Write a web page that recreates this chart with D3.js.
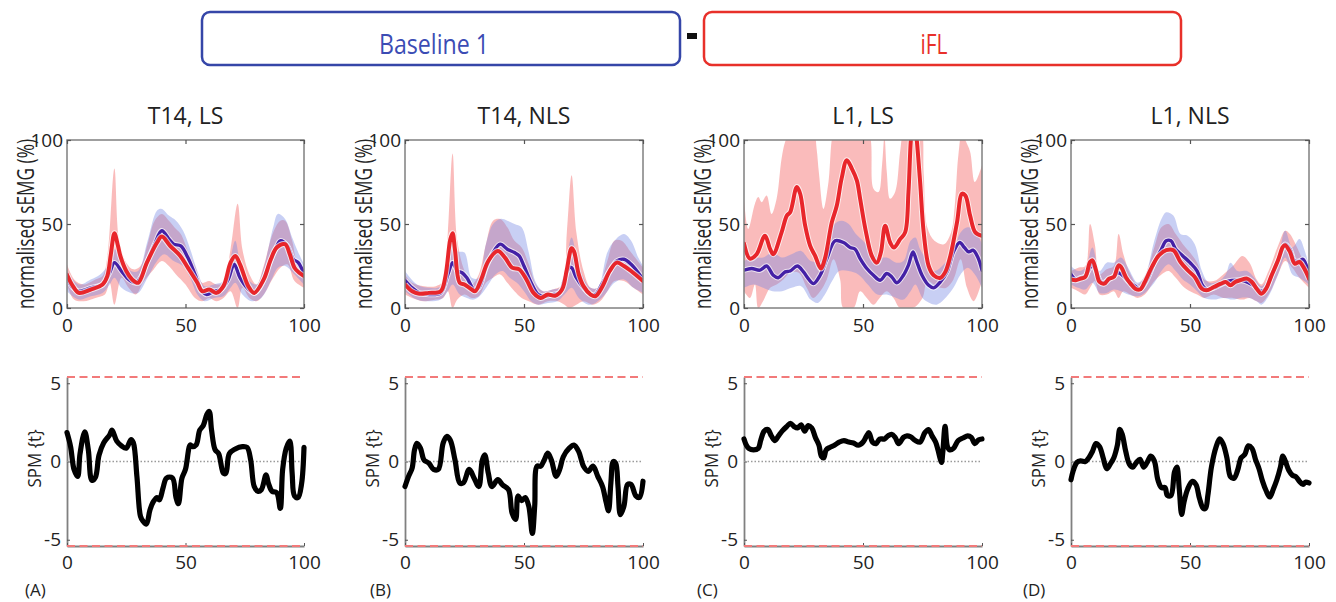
<!DOCTYPE html>
<html><head><meta charset="utf-8">
<script src="https://cdn.jsdelivr.net/npm/d3@7"></script>
<style>
body{margin:0;background:#fff}
svg{display:block}
text{font-family:"Open Sans","Noto Sans",sans-serif}
</style>
</head><body>
<svg id="chart" width="1336" height="602"></svg>
<script>
// ---------------- DATA ----------------
const panelTitles = ["T14, LS", "T14, NLS", "L1, LS", "L1, NLS"];
const panelLetters = ["(A)", "(B)", "(C)", "(D)"];
const xTicks = [0, 50, 100];
const yTicksTop = [0, 50, 100];
const yTicksSpm = [-5, 0, 5];
const spmThreshold = 5.4;
const legendLabels = ["Baseline 1", "iFL"];

// Panel A: T14, LS
const A_redMean = [[0,19.8],[2.5,13],[5,9],[10,11],[15,14],[17,19],[18.5,32],[20,44.5],[21.5,37],[22.5,31],[25,22],[27.5,17],[30,15],[33.7,27],[38,39],[40,42.5],[43.5,37],[47.8,31],[51,24],[55,15],[57,10],[60,11],[63,9],[66,13],[69,27],[71,31],[73,26],[76.5,13],[79,9],[83,17],[86,29],[88.5,36],[92,38],[94,32],[96,24],[98,21],[100,19]];
const A_redUpper = [[0,26],[3,17],[7,14],[12,17],[15,19],[17,30],[20,83],[22,40],[25,27],[28,23],[31,25],[34,38],[37,52],[40,56],[43,52],[46,47],[48,44],[51,34],[54,25],[57,15],[60,16],[63,14],[66,15],[69,35],[72,62],[74,35],[77,20],[80,14],[83,25],[87,45],[90,52],[92,52],[95,40],[97,28],[100,24]];
const A_redLower = [[0,14],[3,5],[7,4],[12,6],[16,8],[18,15],[20,2],[23,18],[26,12],[29,8],[32,15],[36,22],[40,28],[43,25],[46,20],[50,14],[54,6],[57,4],[60,6],[63,4],[66,6],[69,10],[72,0],[74,12],[77,6],[80,4],[83,8],[87,18],[90,24],[93,26],[96,16],[100,12]];
const A_blueMean = [[0,18],[2.5,12],[5,10],[10,12],[15,14],[18,21],[20,27],[23,22],[26,17],[29,15],[31,18],[34,28],[37,38],[40,46],[43,41],[45,38],[48,37],[51,30],[54,20],[57,10],[59,8],[62,10],[65,11],[68,17],[70.5,26],[73,18],[76,12],[79,9],[82,14],[85,25],[88,35],[90,40],[93,37],[95.5,29],[97.6,27],[100,20]];
const A_blueUpper = [[0,22],[5,14],[10,17],[14,20],[17,25],[20,35],[23,30],[27,22],[30,22],[34,40],[38,58],[40,59],[43,55],[46,52],[49,46],[52,35],[55,22],[58,13],[62,14],[66,16],[69,30],[71,40],[73,28],[77,16],[80,14],[83,24],[87,48],[89,56],[92,53],[95,42],[97,35],[100,26]];
const A_blueLower = [[0,10],[5,5],[10,7],[15,9],[18,14],[20,18],[23,12],[27,9],[30,9],[34,18],[38,28],[41,32],[45,28],[49,25],[52,18],[55,8],[58,4],[62,6],[66,7],[69,12],[71,15],[74,8],[78,4],[82,6],[86,16],[89,24],[92,25],[96,20],[100,14]];
const A_spm = [[0,1.85],[1.5,0.96],[3,-0.53],[4.5,-0.96],[5.5,0.5],[7.5,1.9],[9,0.74],[10.5,-1.2],[12,-1.0],[13.5,0.4],[15.5,1.2],[18,1.7],[19,2.0],[21,1.3],[23,1.0],[25,0.85],[27,1.4],[28,1.2],[29.5,-0.96],[31,-3.5],[32,-3.8],[33.5,-4.0],[35,-3.1],[36.5,-2.55],[38,-2.3],[39,-2.45],[40.5,-1.7],[42,-1.06],[44.5,-1.06],[46,-2.3],[47,-2.7],[48.5,-1.06],[50,-0.5],[52,1.06],[53,0.95],[54.5,1.06],[56,2.0],[57.5,2.3],[59,3.0],[60,3.2],[61,2.0],[62.5,0.75],[64,0.5],[66,-0.75],[67,-0.75],[68.5,0.5],[71,0.8],[74,0.95],[76,0.9],[77.5,0.1],[79,-1.6],[80.5,-1.9],[82,-1.8],[84,-0.85],[85,-1.4],[86.5,-1.9],[88.5,-2.0],[90,-3.0],[91,-0.5],[92.5,0.85],[94,1.3],[95,-0.75],[96,-2.2],[97.5,-2.3],[99,-1.4],[100,0.9]];

// Panel B: T14, NLS
const B_redMean = [[0,14],[3,10],[6,8.5],[10,9],[15,10],[17,19],[19,40.6],[20,44.5],[21,34.6],[23,15],[25,14],[28,11],[29.5,10],[32,17],[35,28],[39,34],[42,30],[45,24],[48,23],[51,17],[54,9],[57,6],[60,8],[63,7.3],[66,11],[68,23],[70,35.6],[71,33.7],[73,20],[75,13],[78,8],[80,7],[83,13],[86,22],[89,27],[92,25],[95,22],[100,16]];
const B_redUpper = [[0,20],[3,15],[8,13],[13,13],[16,16],[18,45],[20,92],[22,40],[25,22],[28,14],[31,20],[34,38],[37,52],[40,53],[43,48],[46,40],[49,36],[52,26],[55,14],[58,10],[62,11],[66,14],[68,45],[70,79],[72,45],[75,22],[78,12],[81,12],[85,28],[88,40],[91,40],[95,33],[100,24]];
const B_redLower = [[0,8],[3,6],[8,4],[13,5],[16,6],[18,10],[20,0],[22,5],[25,8],[28,6],[31,7],[34,15],[37,18],[40,20],[43,15],[46,10],[49,6],[52,4],[56,2],[60,4],[64,4],[67,2],[69,0],[72,2],[75,4],[79,2],[82,4],[85,10],[88,16],[92,16],[96,12],[100,8]];
const B_blueMean = [[0,16.5],[3,12],[6,9],[10,8],[15,9],[18,20],[20,27],[22,22],[24,21],[26,18],[29,11],[31,12],[34,24],[37,33],[40,38],[43,35],[46,33],[48,31],[50,25],[53,15],[56,8],[59,7],[62,8],[65,9],[67,17],[69,24],[70,24],[72,18],[75,12],[78,8],[80,8],[83,15],[86,22],[89,28],[92,29],[95,26],[98,21],[100,17]];
const B_blueUpper = [[0,22],[5,14],[10,12],[15,13],[18,30],[20,46],[22,34],[25,33],[28,18],[31,18],[34,38],[37,50],[40,53],[43,52],[46,50],[49,48],[52,33],[55,15],[58,10],[62,11],[66,13],[68,30],[70,42],[72,32],[75,18],[78,12],[81,12],[85,33],[88,40],[92,44],[95,40],[98,30],[100,25]];
const B_blueLower = [[0,10],[5,5],[10,4],[15,5],[18,10],[20,14],[23,8],[26,6],[29,5],[32,8],[35,14],[38,20],[41,22],[44,18],[47,15],[50,10],[53,4],[56,2],[60,3],[64,4],[67,8],[70,12],[73,6],[77,2],[80,3],[84,8],[88,15],[92,17],[96,12],[100,9]];
const B_spm = [[0,-1.6],[1.5,-0.95],[3,-0.42],[4,0.74],[5,1.16],[6.5,0.85],[8,0.1],[10,-0.1],[12,-0.5],[14,-0.5],[16,1.16],[17.5,1.6],[19,1.37],[21,0.1],[23,-1.37],[24.5,-1.37],[27,-0.5],[29,-1.05],[31,-1.6],[32.5,0.1],[33.5,0.42],[35,-0.74],[36.5,-1.6],[39,-1.16],[41,-1.5],[43.5,-1.8],[45,-3.3],[46.5,-3.7],[47.5,-2.2],[49,-2.5],[50.5,-2.3],[52,-2.85],[53.5,-4.6],[54.5,-2.85],[55.5,-0.3],[57,-0.3],[58.5,0.1],[60,0.53],[61.5,0.1],[63.5,-0.95],[65,-0.5],[66.5,0.3],[69,0.85],[71,1.05],[73,0.63],[75,-0.3],[77,-0.63],[79,-0.3],[81,-0.95],[83,-1.6],[84.5,-2.6],[85.5,-3.15],[86.5,-1.37],[87.5,0],[88.5,-0.1],[89.5,-1.6],[90.5,-3.4],[92,-2.85],[93.5,-1.47],[95,-1.47],[97,-2.2],[98.5,-2.3],[100,-1.26]];

// Panel C: L1, LS
const C_redMean = [[0,38.4],[2.5,29.4],[5.3,32],[8.8,43],[11,35],[12.3,32],[15.8,45],[18,55],[19.4,57],[22.2,72],[23.6,68],[25.7,49],[27.8,37],[29.9,31],[32.3,23.5],[34,29.4],[36.9,51],[39,61],[41,77],[43.2,88],[45.3,83],[47.4,76],[48.8,65],[51,47],[53.7,31],[55.8,27],[57.5,33],[59.3,49],[61.4,39],[63,36],[65.6,41],[67.7,45],[69.1,69],[70.1,100],[71.3,118],[72.6,100],[74,75],[75.5,45],[77.6,25],[79.7,19.5],[82.5,18],[84.6,21.5],[86.7,31],[89.5,51],[91.6,68],[93,67],[95,55],[97.2,45],[100,43]];
const C_redUpper = [[0,65],[1.8,47],[4.6,62],[6,66],[7.4,63],[9.5,67],[11.6,56],[13.7,65],[15.8,89],[17.3,99],[19.4,105],[22,110],[26,110],[29,108],[30.5,95],[31.5,80],[33.4,59],[35.5,75],[37.6,105],[40,110],[45,110],[50,110],[53,102],[54.4,71],[56.5,69],[58,85],[59,102],[60,81],[61.4,65],[63.5,69],[65.6,93],[67,105],[70,110],[74,108],[75.5,80],[77,48],[80,40],[84,38],[87,45],[88.5,60],[90,90],[91.6,105],[93,100],[95,93],[97,75],[100,85]];
const C_redLower = [[0,10],[2.5,6],[4.6,14],[6,0],[8,4],[11,12],[13.7,14],[16.5,17],[19.4,21],[23,21],[26.4,12],[29,6],[32,10],[34.8,17],[37.6,29],[40.4,17],[41.8,0],[46,0],[48.8,10],[51.6,6],[54.4,2],[57,6],[60,10],[62.8,6],[65.6,0],[71,0],[75,6],[77,16],[79.7,14],[82.5,12],[85,12],[88,17],[91,29],[93.7,12],[96.5,4],[100,16]];
const C_blueMean = [[0,22.5],[3.2,23.5],[6.7,22.5],[9.5,25],[12.3,19.5],[14.4,18],[17.3,21.5],[19.4,22],[22.4,25],[25,21.5],[27,17.5],[29.2,14.5],[32,19.5],[34.8,29.4],[38.3,40],[41.8,39],[44.6,36],[46.7,35],[48.8,29.4],[51.6,23.5],[54.4,19.5],[57.2,16.5],[60,20.5],[62.1,18.5],[64.2,15],[67,19.5],[69.1,25.5],[71,33.4],[72.4,28.4],[74.8,19.5],[77.6,13.5],[79.7,12],[82.5,15.5],[85.3,21.5],[88,33.4],[90.6,39],[92.6,36],[94.4,33.4],[96.2,34.4],[98.2,30.4],[100,22.5]];
const C_blueUpper = [[0,28],[4,30],[8,30],[12,33],[16,30],[20,32],[24,34],[28,28],[32,28],[35,38],[38,50],[41,52],[44,50],[47,44],[50,40],[53,35],[56,30],[60,30],[64,27],[67,28],[70,40],[72,42],[74,35],[77,28],[80,22],[84,26],[88,34],[91,45],[94,48],[97,46],[100,38]];
const C_blueLower = [[0,12],[4,14],[8,12],[12,10],[16,10],[20,12],[24,13],[28,5],[31,3],[34,8],[37,16],[40,22],[44,22],[48,20],[52,14],[56,8],[60,8],[64,6],[67,5],[70,10],[72,14],[75,6],[78,3],[81,2],[84,5],[88,12],[91,20],[94,24],[97,20],[100,12]];
const C_spm = [[0,1.44],[1,1.04],[2,0.84],[4,0.74],[6,0.84],[7,1.34],[8.5,1.94],[10,2.04],[11.5,1.64],[13,1.34],[14.5,1.64],[16,1.94],[18,2.24],[19.5,2.44],[21,2.24],[22.5,2.14],[24,2.34],[25.5,1.94],[27,2.3],[28.5,2.14],[30,1.54],[31.5,1.04],[32.5,0.34],[33.5,0.24],[34.5,0.74],[36,0.9],[38,1.04],[40,1.24],[42,1.34],[44,1.24],[46,1.18],[48,1.04],[50,1.24],[51.5,1.64],[52.5,1.84],[54,1.24],[55.5,1.14],[57,1.44],[59,1.44],[60.5,1.64],[62,1.74],[63.5,1.54],[65,1.14],[67,1.54],[68.5,1.64],[70,1.58],[72,1.34],[74,1.24],[76,1.84],[77.5,2.04],[79,1.64],[80.5,1.24],[81.5,0.74],[82.5,0.14],[83,-0.06],[83.5,0.54],[84.5,2.24],[85.5,0.94],[86.5,0.74],[88,0.84],[90,1.34],[92,1.5],[94,1.64],[95.5,1.54],[97,1.14],[98.5,1.38],[100,1.44]];

// Panel D: L1, NLS
const D_redMean = [[0,17],[2,16.5],[4,17.5],[6,18.5],[8,27.4],[9,28.4],[10.5,22.5],[12,15.5],[14,14.5],[16,17.5],[18,18.5],[20,25.4],[21,24.5],[23,18.5],[25,14.5],[27,11.5],[29,11],[31,15.5],[34,24.5],[37,31.4],[40,34.4],[43,34.4],[46,27.4],[49,22.5],[52,18.5],[55,11.5],[57,10.5],[60,12.5],[63,14.5],[65,15.5],[67,13.5],[69,15.5],[71,16.5],[74,17.5],[76,15.5],[78,11.5],[80,8.5],[82,11.5],[84,18.5],[87,28.4],[89,36.4],[90,37.4],[92,33.4],[94,26.4],[96,27.4],[98,23.5],[100,17.5]];
const D_redUpper = [[0,22],[3,24],[6,25],[8,50],[10,38],[12,20],[15,23],[18,25],[20,44],[22,32],[25,20],[28,14],[31,19],[35,36],[38,48],[41,50],[44,44],[47,38],[50,33],[53,27],[56,17],[60,16],[64,20],[68,25],[72,31],[75,27],[78,17],[80,14],[83,22],[87,37],[90,46],[92,44],[95,36],[97,30],[100,25]];
const D_redLower = [[0,12],[3,10],[6,8],[8,12],[10,16],[12,8],[15,8],[18,10],[20,6],[22,10],[25,8],[28,6],[31,8],[35,16],[38,20],[41,22],[44,18],[47,13],[50,10],[53,8],[56,6],[60,8],[64,6],[68,6],[72,5],[75,6],[78,4],[80,3],[83,8],[87,20],[90,28],[93,24],[96,18],[100,12]];
const D_blueMean = [[0,20],[2,17],[4,18],[6,19],[8,24],[9,26],[11,20],[13,15],[16,17],[18,19],[20,21],[22,19],[24,16],[27,13],[29,11],[32,17],[35,27],[38,35],[40,40],[42,40],[44,35],[47,31],[50,27],[53,22],[55,14],[57,11],[60,12],[63,14],[66,16],[70,16.5],[73,16],[76,14],[78,12],[80,10],[82,12],[85,22],[88,32],[90,38],[92,35],[94,28],[96,28],[97.5,29],[100,20]];
const D_blueUpper = [[0,25],[3,22],[6,24],[9,36],[12,22],[15,27],[18,27],[21,30],[24,24],[28,15],[31,19],[35,40],[38,53],[40,57],[43,55],[46,44],[49,43],[52,38],[55,22],[58,15],[62,16],[65,20],[67,27],[70,22],[74,22],[77,18],[80,13],[83,18],[87,30],[90,46],[93,36],[96,41],[98,35],[100,25]];
const D_blueLower = [[0,14],[3,12],[6,11],[9,15],[12,9],[15,9],[18,11],[21,10],[24,8],[28,7],[31,9],[35,15],[38,22],[41,26],[44,22],[47,17],[50,14],[53,10],[56,6],[60,5],[64,6],[68,5],[71,6],[75,6],[78,4],[80,2],[83,7],[87,20],[90,30],[93,20],[96,18],[100,14]];
const D_spm = [[0,-1.17],[1,-0.56],[2.5,-0.06],[4,0.04],[6,0],[7.5,0.24],[9,0.64],[10.5,1.15],[12,0.95],[13.5,0.24],[15,-0.46],[16.5,-0.16],[18,0.24],[19.5,1.05],[20.5,2.05],[21.5,1.75],[23,0.64],[24.5,-0.16],[26,-0.36],[27.5,-0.06],[29,0.14],[30.5,-0.36],[32,-0.06],[33.5,0.34],[35,0.04],[36.5,-1.17],[38,-1.67],[39.5,-1.67],[40.5,-2.17],[42,-2.17],[43.5,-0.66],[44.5,-0.36],[45.5,-1.77],[46.5,-3.38],[47.5,-2.58],[49,-1.77],[51,-1.27],[52.5,-1.47],[54,-2.37],[55.5,-2.98],[56.5,-3.0],[57.5,-2.17],[59,-0.36],[61,0.95],[62.5,1.45],[64,1.09],[65.5,0.24],[67,-0.97],[68.5,-1.07],[70,-0.56],[71.5,0.24],[73,0.44],[74.5,1.0],[76,0.85],[77.5,0.14],[79,-0.46],[80.5,-1.27],[82,-1.87],[83.5,-2.27],[85,-1.77],[86.5,-1.17],[88,-0.36],[89,0.34],[90,0.04],[91.5,-0.56],[93,-0.87],[94.5,-0.97],[96,-1.27],[97.5,-1.47],[98.5,-1.32],[100,-1.37]];

// ---------------- LAYOUT ----------------
const panels = [
  {x0:67,  x1:304,  redMean:A_redMean, redUpper:A_redUpper, redLower:A_redLower, blueMean:A_blueMean, blueUpper:A_blueUpper, blueLower:A_blueLower, spm:A_spm},
  {x0:405, x1:643,  redMean:B_redMean, redUpper:B_redUpper, redLower:B_redLower, blueMean:B_blueMean, blueUpper:B_blueUpper, blueLower:B_blueLower, spm:B_spm},
  {x0:744, x1:982,  redMean:C_redMean, redUpper:C_redUpper, redLower:C_redLower, blueMean:C_blueMean, blueUpper:C_blueUpper, blueLower:C_blueLower, spm:C_spm},
  {x0:1071,x1:1309, redMean:D_redMean, redUpper:D_redUpper, redLower:D_redLower, blueMean:D_blueMean, blueUpper:D_blueUpper, blueLower:D_blueLower, spm:D_spm}
];
const topY0 = 308, topY1 = 140;
const botY0 = 546, botY1 = 377;
const letterX = [25, 370, 697, 1023];

const COL = {
  blueLine: "#4421a6", redLine: "#e8262b",
  blueFill: "rgba(118,134,228,0.40)", redFill: "rgba(246,120,120,0.50)",
  axis: "#808080", text: "#222", dash: "#f27a7a"
};
const FONT = '"Open Sans","Noto Sans",sans-serif';
const fmt = d => String(d);   // plain hyphen-minus like the reference

const svg = d3.select("#chart");

// ---------------- LEGEND ----------------
const leg = svg.append("g");
leg.append("rect").attr("x",202).attr("y",12).attr("width",478).attr("height",53).attr("rx",8)
  .attr("fill","#fff").attr("stroke","#3546a8").attr("stroke-width",2.5);
leg.append("rect").attr("x",704).attr("y",12).attr("width",477).attr("height",53).attr("rx",8)
  .attr("fill","#fff").attr("stroke","#e8302a").attr("stroke-width",2.5);
leg.append("rect").attr("x",687).attr("y",33).attr("width",10).attr("height",6).attr("fill","#111");
leg.append("text").attr("x",434).attr("y",54).attr("text-anchor","middle").attr("font-size",28)
  .attr("fill","#3b4cb4").attr("textLength",110).attr("lengthAdjust","spacingAndGlyphs").text(legendLabels[0]);
leg.append("text").attr("x",934).attr("y",54).attr("text-anchor","middle").attr("font-size",28)
  .attr("fill","#e8302a").attr("textLength",27).attr("lengthAdjust","spacingAndGlyphs").text(legendLabels[1]);

// ---------------- PANELS ----------------
const smooth = d3.curveCatmullRom.alpha(0.5);

panels.forEach((p, i) => {
  const x = d3.scaleLinear().domain([0,100]).range([p.x0, p.x1]);
  const yT = d3.scaleLinear().domain([0,100]).range([topY0, topY1]);
  const yB = d3.scaleLinear().domain([-spmThreshold, spmThreshold]).range([botY0, botY1]);
  const lineT = d3.line().x(d => x(d[0])).y(d => yT(d[1])).curve(smooth);
  const lineB = d3.line().x(d => x(d[0])).y(d => yB(d[1])).curve(smooth);
  const band = (up, lo) => lineT(up) + "L" + lineT(lo.slice().reverse()).slice(1) + "Z";

  const g = svg.append("g");
  const cx = (p.x0 + p.x1) / 2;

  g.append("text").attr("x", cx).attr("y", 124).attr("text-anchor","middle")
    .attr("font-size",23).attr("fill",COL.text).text(panelTitles[i]);

  const cid = "clip" + i;
  svg.append("clipPath").attr("id", cid).append("rect")
    .attr("x", p.x0).attr("y", topY1).attr("width", p.x1 - p.x0).attr("height", topY0 - topY1);

  const plot = g.append("g").attr("clip-path", `url(#${cid})`);
  plot.append("path").attr("d", band(p.redUpper, p.redLower)).attr("fill", COL.redFill);
  plot.append("path").attr("d", band(p.blueUpper, p.blueLower)).attr("fill", COL.blueFill);
  [[p.blueMean, COL.blueLine, 3.4], [p.redMean, COL.redLine, 4]].forEach(([data, col, w]) => {
    plot.append("path").attr("d", lineT(data)).attr("fill","none")
      .attr("stroke","rgba(255,255,255,0.7)").attr("stroke-width", w + 2).attr("stroke-linejoin","round");
    plot.append("path").attr("d", lineT(data)).attr("fill","none")
      .attr("stroke", col).attr("stroke-width", w).attr("stroke-linejoin","round").attr("stroke-linecap","round");
  });

  g.append("rect").attr("x", p.x0).attr("y", topY1).attr("width", p.x1 - p.x0).attr("height", topY0 - topY1)
    .attr("fill","none").attr("stroke", COL.axis).attr("stroke-width",1.5);

  const styleAxis = sel => {
    sel.select(".domain").remove();
    sel.selectAll(".tick line").attr("stroke", "#555").attr("stroke-width", 1.2);
    sel.selectAll(".tick text").attr("font-size", 19).attr("fill", COL.text).attr("font-family", FONT);
  };
  g.append("g").attr("transform", `translate(0,${topY0})`)
    .call(d3.axisBottom(x).tickValues(xTicks).tickSize(-4).tickPadding(11).tickFormat(fmt)).call(styleAxis);
  g.append("g").attr("transform", `translate(0,${topY1})`)
    .call(d3.axisTop(x).tickValues(xTicks).tickSize(-4).tickFormat("")).call(styleAxis);
  g.append("g").attr("transform", `translate(${p.x0},0)`)
    .call(d3.axisLeft(yT).tickValues(yTicksTop).tickSize(-4).tickPadding(4).tickFormat(fmt)).call(styleAxis);
  g.append("g").attr("transform", `translate(${p.x1},0)`)
    .call(d3.axisRight(yT).tickValues(yTicksTop).tickSize(-4).tickFormat("")).call(styleAxis);

  g.append("text").attr("transform", `translate(${p.x0 - 33},${(topY0 + topY1) / 2}) rotate(-90)`)
    .attr("text-anchor","middle").attr("font-size",24).attr("fill",COL.text)
    .attr("textLength",170).attr("lengthAdjust","spacingAndGlyphs").text("normalised sEMG (%)");

  // ---- SPM panel ----
  const gb = svg.append("g");
  const axL = gb.append("g").attr("transform", `translate(${p.x0},0)`)
    .call(d3.axisLeft(yB).tickValues(yTicksSpm).tickSize(-3).tickSizeOuter(0).tickPadding(6).tickFormat(fmt));
  axL.select(".domain").attr("stroke", COL.axis).attr("stroke-width", 1.8);
  axL.selectAll(".tick line").attr("stroke", "#555");
  axL.selectAll(".tick text").attr("font-size", 19).attr("fill", COL.text).attr("font-family", FONT);
  const axB = gb.append("g").attr("transform", `translate(0,${botY0})`)
    .call(d3.axisBottom(x).tickValues(xTicks).tickSize(-3).tickSizeOuter(0).tickPadding(10).tickFormat(fmt));
  axB.select(".domain").attr("stroke", COL.axis).attr("stroke-width", 1.8);
  axB.selectAll(".tick line").attr("stroke", "#555");
  axB.selectAll(".tick text").attr("font-size", 19).attr("fill", COL.text).attr("font-family", FONT);

  gb.append("line").attr("x1", x(0)).attr("x2", x(100)).attr("y1", yB(0)).attr("y2", yB(0))
    .attr("stroke", "#9a9a9a").attr("stroke-width", 1.3).attr("stroke-dasharray", "1.5,2");
  [spmThreshold, -spmThreshold].forEach(t => {
    gb.append("line").attr("x1", x(0)).attr("x2", x(100)).attr("y1", yB(t)).attr("y2", yB(t))
      .attr("stroke", COL.dash).attr("stroke-width", 2).attr("stroke-dasharray", "8,4.5");
  });
  gb.append("path").attr("d", lineB(p.spm)).attr("fill","none").attr("stroke","#000")
    .attr("stroke-width",5.2).attr("stroke-linejoin","round").attr("stroke-linecap","round");

  gb.append("text").attr("transform", `translate(${p.x0 - 26},${yB(0) - 3}) rotate(-90)`)
    .attr("text-anchor","middle").attr("font-size",18).attr("fill",COL.text)
    .attr("textLength",58).attr("lengthAdjust","spacingAndGlyphs").text("SPM {t}");

  gb.append("text").attr("x", letterX[i]).attr("y", 596).attr("font-size",17).attr("fill",COL.text).text(panelLetters[i]);
});
</script>
</body></html>
